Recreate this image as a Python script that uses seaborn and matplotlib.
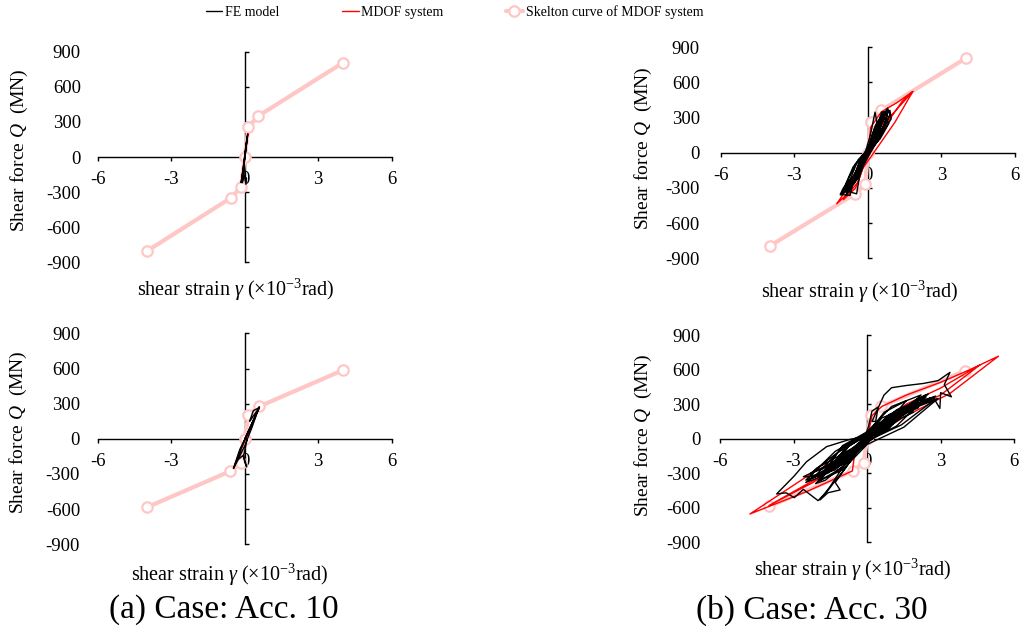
import matplotlib
matplotlib.use("Agg")
import matplotlib.pyplot as plt
import seaborn as sns

# ---------------- data ----------------
# Skeleton curves of MDOF system
sk_a1_x = [-4, -0.57, -0.15, 0, 0.15, 0.55, 4]
sk_a1_y = [-805, -350, -258, 0, 258, 350, 805]
sk_b1_x = [-4, -0.52, -0.1, 0, 0.12, 0.54, 4]
sk_b1_y = [-795, -350, -262, 0, 262, 362, 808]
sk_a2_x = [-4, -0.6, -0.15, 0, 0.15, 0.6, 4]
sk_a2_y = [-585, -277, -205, 0, 205, 277, 585]
sk_b2_x = [-4, -0.58, -0.14, 0, 0.14, 0.58, 4]
sk_b2_y = [-588, -280, -210, 0, 210, 280, 590]

# MDOF system responses
md_a1_x = [0, 0.13, 0.06, -0.13, 0]
md_a1_y = [0, 200, 90, -200, 0]
md_a2_x = [0, 0.3, 0.6, 0.3, -0.1, -0.46, -0.2, 0.2, 0.6]
md_a2_y = [0, 130, 275, 120, -60, -253, -100, 60, 275]
md_b1_x = [0, 0.12, 0.55, 1.2, 1.83, 0.93, 0.4, -0.1, -0.4, -0.73, -1.27, -0.6, -0.1,
           0.4, 0.9, 1.4, 1.83, 1.1, 0.5, -0.2, -0.5, -1.0, -0.55, 0, 0.6, 1.0, 0.6, 0]
md_b1_y = [0, 220, 350, 430, 523, 313, 120, -60, -250, -330, -435, -230, -40,
           130, 290, 440, 523, 260, 80, -130, -300, -400, -260, -40, 180, 330, 250, 0]
md_b2_x = [0, 0.2, 0.6, 1.6, 3.0, 4.2, 5.36, 3.38, 1.6, 0.3, -0.5, -0.6, -2.47, -4.78,
           -2.47, -1.0, 0.0, 0.5, 1.6, 3.0, 4.6, 3.0, 1.5, 0.5, -0.6, -2.0, -4.0, -2.2,
           -0.5, 0]
md_b2_y = [0, 200, 280, 379, 490, 600, 717, 393, 200, 30, -120, -280, -460, -654,
           -330, -150, -10, 130, 300, 440, 640, 380, 230, 80, -120, -340, -580, -380,
           -120, 0]

# FE model responses
fe_a1_x = [0, 0.06, 0.12, 0.07, 0.0, -0.06, -0.13, -0.15, -0.08, 0.02, 0.1, 0.05,
           -0.04, -0.02, 0.05, 0.07, -0.04, -0.1, -0.06, 0]
fe_a1_y = [0, 90, 194, 130, 20, -90, -200, -219, -130, 10, 170, 90,
           -80, -160, -233, -180, -162, -220, -150, 0]
fe_a2_x = [0, 0.2, 0.45, 0.6, 0.3, 0.2, 0.35, 0.6, 0.4, 0.1, -0.2, -0.46, -0.3, 0.0,
           0.3, 0.55, 0.2, -0.1, -0.3, -0.05, 0.08, 0.0, -0.05, 0.1, 0]
fe_a2_y = [0, 80, 200, 268, 180, 150, 240, 268, 180, 40, -90, -253, -190, -60,
           100, 250, 90, -60, -180, -140, -240, -200, -150, 0, 0]
fe_b1_x = [0, 0.2, 0.4, 0.29, 0.1, -0.2, -0.5, -0.86, -1.0, -0.7, -0.3, 0.1, 0.5, 0.8,
           0.9, 0.7, 0.3, -0.2, -0.6, -0.73, -1.13, -1.0, -0.6, -0.1, 0.3, 0.56, 0.9,
           0.95, 0.6, 0.2, -0.3, -0.46, -0.8, -0.5, 0.0, 0.4, 0.7, 0.85, 0.5, 0.0, -0.4,
           -0.9, -0.6, -0.2, 0.25, 0.62, 0.4, 0.1, -0.2, -0.5, -0.3, 0.2, 0.5, 0.75,
           0.6, 0.3, 0.0, -0.4, -0.8, -1.05, -0.8, -0.4, 0.0, 0.35, 0.7, 0.85, 0.5,
           0.1, -0.3, -0.7, -0.95, -0.6, -0.2, 0.15, 0.45, 0.2, -0.1, -0.45, -0.9,
           -0.7, -0.3, 0,
           0.3, 0.7, 0.35, 0, -0.4, -0.9, -0.45, 0,
           0.25, 0.55, 0.25, 0, -0.5, -1.05, -0.5, 0,
           0.4, 0.85, 0.4, 0, -0.3, -0.75, -0.35, 0,
           0.35, 0.65, 0.3, 0, -0.6, -1.1, -0.55, 0,
           0.2, 0.45, 0.2, 0]
fe_b1_y = [0, 100, 230, 347, 150, -60, -200, -250, -335, -270, -120, 60, 250, 381,
           330, 230, 90, -90, -250, -364, -355, -300, -200, -20, 170, 347, 361,
           290, 170, 40, -150, -350, -330, -230, -20, 200, 300, 250, 120, 0, -180,
           -290, -220, -60, 120, 280, 250, 80, -60, -170, -60, 90, 220, 340,
           300, 170, 20, -160, -300, -350, -320, -190, -10, 150, 330, 300, 180,
           30, -110, -280, -310, -240, -90, 70, 230, 110, -30, -200, -360,
           -300, -140, -10,
           80, 330, 240, 30, -60, -320, -230, -20,
           60, 300, 200, 20, -90, -340, -240, -10,
           100, 360, 260, 40, -50, -300, -200, 0,
           130, 350, 230, 10, -120, -360, -260, -30,
           70, 270, 170, 0]
fe_b2_x = [0, 0.4, 0.9, 1.2, 0.8, 0.2, -0.5, -1.0, -1.3, -0.9, -0.3, 0.5, 1.3, 1.9,
           2.1, 1.6, 0.7, 0.0, -0.8, -1.5, -2.0, -1.6, -0.9, -0.2, 0.6, 1.5, 2.3, 2.6,
           2.2, 1.2, 0.3, -0.7, -1.6, -2.3, -2.5, -2.0, -1.1, -0.2, 0.05, 0.2, 0.45,
           0.35, 0.2, 0.69, 1.0, 1.6, 2.3, 2.9, 3.38, 3.15, 3.44, 3.0, 2.97, 2.7, 2.1,
           1.2, 0.4, -0.7, -1.65, -2.47, -3.0, -3.69, -3.3, -2.97, -2.6, -2.0, -1.6,
           -1.38, -0.9, -0.3, 0.4, 1.2, 2.0, 2.5, 2.3, 1.5, 0.6, -0.3, -1.2, -1.9,
           -2.3, -2.06, -1.4, -0.5, 0.3, 1.0, 1.7, 2.4, 2.0, 1.1, 0.2, -0.6, -1.51,
           -1.92, -1.6, -1.1, -1.3, -0.8, -0.1, 0.8, 1.5, 1.9, 1.4, 0.6,
           0.3, 1.0, 1.8, 2.5, 2.8, 2.4, 1.6, 0.8, 0.1, -0.6, -1.2, -1.8, -2.2, -1.9,
           -1.2, -0.4, 0.4, 1.1, 1.7, 2.2, 1.8, 1.0, 0.2, -0.4, -1.0, -1.7, -2.1,
           -1.7, -1.0, -0.3, 0.5, 1.4, 2.2, 2.7, 2.3, 1.4, 0.5, -0.2, -0.9, -1.6,
           -2.3, -2.6, -2.2, -1.4, -0.6, 0.2, 0.9, 1.6, 2.1, 1.7, 0.9, 0.1, -0.6,
           -1.3, -1.0, -0.3, 0.4, 1.0, 0.6, 0,
           1.2, 2.4, 1.2, 0, -1.0, -2.2, -1.1, 0,
           0.9, 1.8, 0.9, 0, -0.8, -1.7, -0.9, 0,
           1.4, 2.7, 1.3, 0, -1.3, -2.5, -1.3, 0,
           0.6, 1.3, 0.6, 0, -0.7, -1.4, -0.7, 0,
           1.1, 2.2, 1.0, 0, -1.0, -2.0, -1.0, 0,
           1.5, 2.9, 1.5, 0, -1.2, -2.3, -1.2, 0,
           0.8, 1.6, 0.7, 0, -0.9, -1.9, -1.0, 0]
fe_b2_y = [0, 50, 160, 230, 170, 40, -90, -190, -240, -190, -50, 90, 200, 290,
           320, 270, 130, 20, -130, -250, -330, -300, -180, -30, 110, 230, 330, 355,
           320, 200, 50, -110, -260, -350, -380, -340, -210, -40, 100, 240, 275,
           150, 150, 379, 443, 462, 480, 505, 576, 470, 364, 400, 263, 360, 300,
           170, 40, -6, -69, -200, -330, -480, -470, -512, -440, -538, -450,
           -388, -260, -80, 80, 220, 340, 390, 350, 260, 120, -40, -200, -310,
           -320, -257, -180, -70, 60, 170, 270, 380, 330, 200, 30, -120, -416,
           -532, -470, -445, -380, -230, -20, 140, 250, 230, 180, 60,
           80, 150, 260, 330, 370, 340, 250, 120, 10, -100, -190, -280, -330, -320,
           -220, -80, 70, 180, 240, 300, 290, 180, 40, -60, -170, -300, -390,
           -360, -240, -60, 100, 210, 290, 330, 330, 240, 100, -10, -140, -230,
           -300, -330, -330, -250, -120, 30, 130, 220, 270, 260, 160, 20, -90,
           -200, -190, -60, 60, 140, 110, -20,
           110, 360, 250, 40, -80, -340, -230, -30,
           90, 300, 210, 30, -60, -300, -210, -20,
           120, 330, 260, 50, -110, -360, -270, -40,
           70, 240, 180, 20, -50, -260, -190, -10,
           150, 380, 280, 60, -60, -370, -270, -50,
           100, 350, 270, 30, -120, -300, -210, 0,
           130, 330, 230, 40, -90, -360, -250, -30]

legend_labels = ["FE model", "MDOF system", "Skelton curve of MDOF system"]
captions = ["(a) Case: Acc. 10", "(b) Case: Acc. 30"]
xticks = [-6, -3, 0, 3, 6]
yticks = [-900, -600, -300, 0, 300, 600, 900]

# ---------------- style ----------------
sns.set_theme(style="white")
plt.rcParams["font.family"] = ["Liberation Serif", "DejaVu Serif"]
plt.rcParams["mathtext.fontset"] = "custom"
plt.rcParams["mathtext.rm"] = "Liberation Serif"
plt.rcParams["mathtext.it"] = "Liberation Serif:italic"
plt.rcParams["axes.unicode_minus"] = False
plt.rcParams["text.color"] = "black"
plt.rcParams["axes.labelcolor"] = "black"

PINK = "#FFC6C6"

fig = plt.figure(figsize=(10.21, 6.26), dpi=100)
fig.patch.set_facecolor("white")

panels = [
    ([0.0957, 0.581, 0.288, 0.3364], sk_a1_x, sk_a1_y, md_a1_x, md_a1_y, fe_a1_x, fe_a1_y,
     118, (0.469, -0.1315), (-0.265, 0.533)),
    ([0.7059, 0.5874, 0.2883, 0.337], sk_b1_x, sk_b1_y, md_b1_x, md_b1_y, fe_b1_x, fe_b1_y,
     121, (0.473, -0.16), (-0.264, 0.523)),
    ([0.0957, 0.1305, 0.288, 0.337], sk_a2_x, sk_a2_y, md_a2_x, md_a2_y, fe_a2_x, fe_a2_y,
     118.6, (0.45, -0.1455), (-0.268, 0.532)),
    ([0.7052, 0.1337, 0.2881, 0.331], sk_b2_x, sk_b2_y, md_b2_x, md_b2_y, fe_b2_x, fe_b2_y,
     120, (0.452, -0.1336), (-0.262, 0.515)),
]

handles = None
for rect, skx, sky, mdx, mdy, fex, fey, ypad, xlc, ylc in panels:
    ax = fig.add_axes(rect)
    ax.set_facecolor("none")
    sns.lineplot(x=skx, y=sky, sort=False, estimator=None, color=PINK, lw=3,
                 marker="o", markersize=7.5, markerfacecolor="white",
                 markeredgecolor=PINK, markeredgewidth=1.6, ax=ax, zorder=1)
    sns.lineplot(x=mdx, y=mdy, sort=False, estimator=None, color="#FF0000", lw=1.0,
                 ax=ax, zorder=2)
    sns.lineplot(x=fex, y=fey, sort=False, estimator=None, color="black", lw=1.0,
                 ax=ax, zorder=3)
    if handles is None:
        handles = [ax.lines[2], ax.lines[1], ax.lines[0]]
    ax.set_xlim(-6, 6)
    ax.set_ylim(-900, 900)
    ax.set_xticks(xticks)
    ax.set_yticks(yticks)
    for s in ["top", "right"]:
        ax.spines[s].set_visible(False)
    ax.spines["left"].set_position(("data", 0))
    ax.spines["bottom"].set_position(("data", 0))
    for s in ["left", "bottom"]:
        ax.spines[s].set_color("black")
        ax.spines[s].set_linewidth(1.0)
        ax.spines[s].set_zorder(0.5)
    ax.tick_params(axis="x", bottom=True, direction="out", length=3, width=1,
                   color="black", labelcolor="black", labelsize=13.5, pad=7)
    ax.tick_params(axis="y", left=True, direction="in", length=2.6, width=1,
                   color="black", labelcolor="black", labelsize=13.5, pad=ypad)
    ax.set_xlabel(r"shear strain $\gamma$ (×10$^{\mathregular{-3}}$rad)", fontsize=14.5,
                  color="black", va="center")
    ax.xaxis.set_label_coords(*xlc)
    ax.set_ylabel(r"Shear force $Q$  (MN)", fontsize=14, color="black", va="center")
    ax.yaxis.set_label_coords(*ylc)

fig.legend(handles, legend_labels, loc="center", bbox_to_anchor=(0.445, 1 - 12 / 626),
           ncol=3, frameon=False, fontsize=10, handlelength=1.2, handletextpad=0.2,
           columnspacing=4.5, borderaxespad=0)

fig.text(224 / 1021, 1 - 610 / 626, captions[0], ha="center", va="center",
         fontsize=24, color="black")
fig.text(812 / 1021, 1 - 610 / 626, captions[1], ha="center", va="center",
         fontsize=24, color="black")

fig.savefig("out.png", dpi=100, facecolor="white")
